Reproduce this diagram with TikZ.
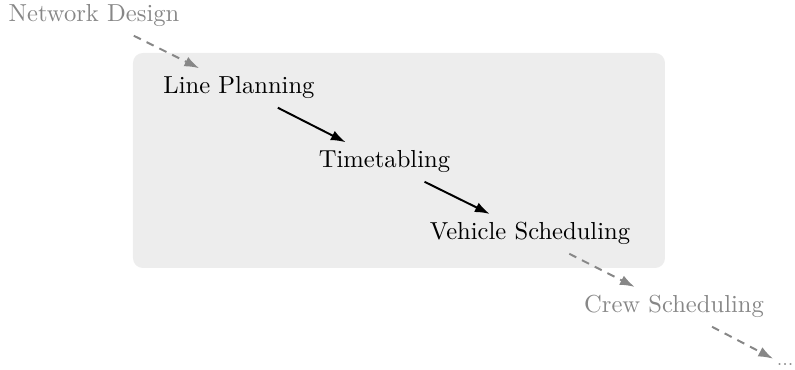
\documentclass[tikz,border=0pt]{standalone}
\usetikzlibrary{arrows.meta}
\begin{document}
\begin{tikzpicture}[x=0.4065pt,y=-0.4065pt,
  mainstage/.style={anchor=base, text=black},
  sidestage/.style={anchor=base, text=black!47},
  solidarrow/.style={-{Latex[length=6pt,width=4.2pt]}, line width=0.8pt, black},
  dashedarrow/.style={-{Latex[length=6pt,width=4.2pt]}, line width=0.8pt, black!47, dash pattern=on 3.2pt off 2.6pt},
  stagebox/.style={fill=black!7, rounded corners=4pt}]
\useasboundingbox (0,0) rectangle (795,370);
\fill[stagebox] (133,53) rectangle (665,268);
\node[sidestage] (nd) at (94,22) {Network Design};
\node[mainstage] (lp) at (239,94) {Line Planning};
\node[mainstage] (tt) at (384.5,168) {Timetabling};
\node[mainstage] (vs) at (530,240) {Vehicle Scheduling};
\node[sidestage] (cs) at (674,313) {Crew Scheduling};
\node[sidestage, font=\scriptsize, anchor=base east, inner sep=0pt] (dots) at (794,366) {...};
\draw[dashedarrow] (nd) -- (lp);
\draw[solidarrow] (lp) -- (tt);
\draw[solidarrow] (tt) -- (vs);
\draw[dashedarrow] (vs) -- (cs);
\draw[dashedarrow, shorten >=4pt] (cs) -- (dots);
\end{tikzpicture}
\end{document}
